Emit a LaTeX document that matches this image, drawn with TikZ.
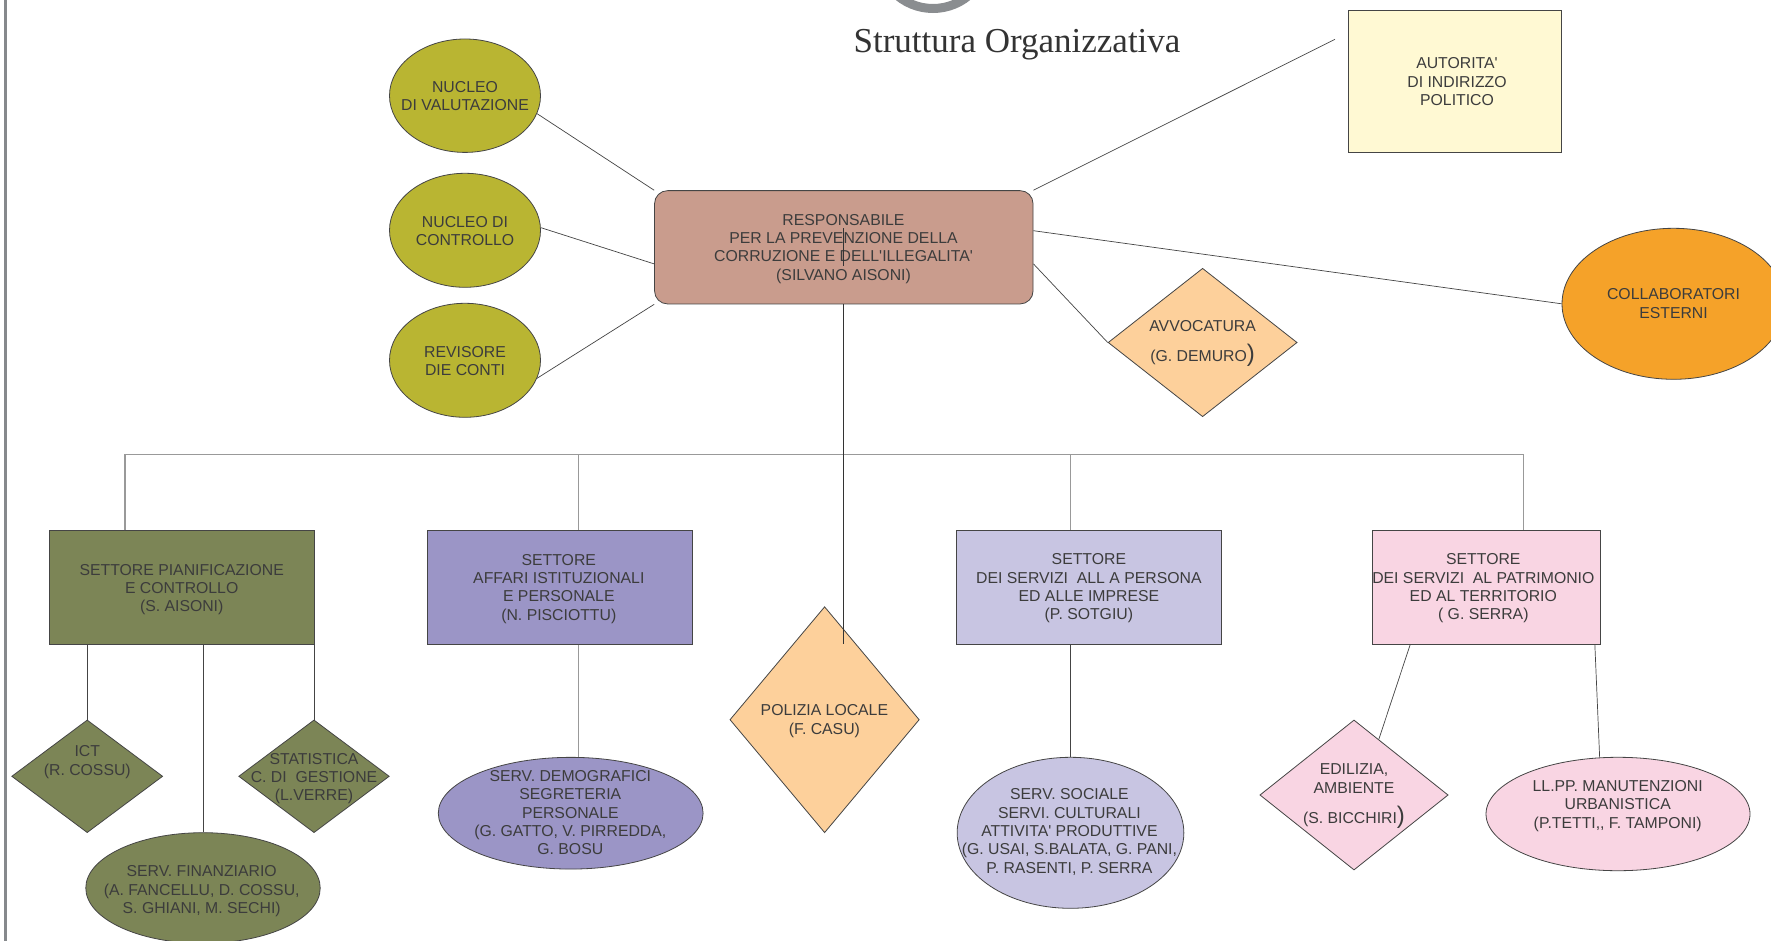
\documentclass[tikz,border=0pt]{standalone}
\usepackage{fontspec}
\setmainfont{Liberation Sans}[Ligatures=TeXOff]
\newfontfamily\titlefont{Liberation Serif}
\usetikzlibrary{shapes.geometric,calc}
\definecolor{olivelt}{HTML}{B9B532}
\definecolor{olivedk}{HTML}{7C8556}
\definecolor{respc}{HTML}{C99C8D}
\definecolor{autc}{HTML}{FFF9D3}
\definecolor{colc}{HTML}{F5A229}
\definecolor{avvc}{HTML}{FDD09B}
\definecolor{affc}{HTML}{9B95C6}
\definecolor{persc}{HTML}{C8C5E2}
\definecolor{patc}{HTML}{F9D5E3}
\definecolor{txtc}{HTML}{3C3C3C}
\definecolor{titlec}{HTML}{333333}
\definecolor{edgec}{HTML}{454545}
\definecolor{conc}{HTML}{444444}
\definecolor{busc}{HTML}{999999}
\definecolor{mainc}{HTML}{333333}
\definecolor{borderc}{HTML}{86898C}
\definecolor{ringc}{HTML}{8A8D90}
\newcommand\bigparen{{\fontsize{24}{18.3}\selectfont)}}
\begin{document}
\begin{tikzpicture}[x=1pt,y=-1pt,
  shp/.style={draw=edgec,line width=0.8pt,inner sep=0pt},
  box/.style={shp,rectangle},
  ell/.style={shp,ellipse},
  dia/.style={shp,diamond},
  lbl/.style={inner sep=0pt,align=center,text=txtc,font=\fontsize{15.8}{18.3}\selectfont},
  con/.style={draw=conc,line width=0.7pt},
  bus/.style={draw=busc,line width=1.3pt},
  mainline/.style={draw=mainc,line width=1pt}]

\useasboundingbox (0,0) rectangle (1771,941);
\fill[white] (0,0) rectangle (1771,941);

% top ring and left border
\begin{scope}
  \clip (0,0) rectangle (1771,941);
  \draw[ringc,line width=9pt] (933,-47) circle[radius=55.5];
\end{scope}
\draw[borderc,line width=3pt] (5,0) -- (5,941);

% title
\node[font=\titlefont\fontsize{35}{40}\selectfont,text=titlec,anchor=base,inner sep=0pt] (title) at (1017,53) {Struttura Organizzativa};

% shapes
\node[ell,fill=olivelt,minimum width=151,minimum height=113.4] (nv) at (465,95.7) {};
\node[ell,fill=olivelt,minimum width=151,minimum height=114] (nc) at (465,230.3) {};
\node[ell,fill=olivelt,minimum width=151,minimum height=114] (rv) at (465,360.3) {};
\node[box,fill=respc,rounded corners=13pt,minimum width=378.5,minimum height=113.3] (resp) at (843.8,247.3) {};
\node[box,fill=autc,minimum width=213,minimum height=142] (aut) at (1455.2,81.7) {};
\node[ell,fill=colc,minimum width=223,minimum height=151] (col) at (1673.5,303.8) {};
\node[dia,fill=avvc,minimum width=189,minimum height=148.4] (avv) at (1202.6,342.5) {};

\node[box,fill=olivedk,minimum width=265,minimum height=113.6] (pian) at (181.8,587.5) {};
\node[box,fill=affc,minimum width=265.2,minimum height=113.6] (aff) at (560.2,587.5) {};
\node[box,fill=persc,minimum width=264.4,minimum height=113.6] (pers) at (1088.9,587.5) {};
\node[box,fill=patc,minimum width=227.3,minimum height=113.6] (pat) at (1486.4,587.5) {};

\node[dia,fill=olivedk,minimum width=151,minimum height=112.7] (ict) at (87.2,776.3) {};
\node[dia,fill=olivedk,minimum width=150.6,minimum height=112.7] (stat) at (314,776.3) {};
\node[ell,fill=olivedk,minimum width=234.4,minimum height=110.6] (fin) at (203,888) {};
\node[ell,fill=affc,minimum width=264.8,minimum height=111.7] (dem) at (570.7,813.2) {};
\node[dia,fill=avvc,minimum width=189.4,minimum height=226] (pol) at (824.6,719.7) {};
\node[ell,fill=persc,minimum width=226.7,minimum height=151] (soc) at (1070.5,832.8) {};
\node[dia,fill=patc,minimum width=188.3,minimum height=150] (edi) at (1354,795) {};
\node[ell,fill=patc,minimum width=264,minimum height=113.4] (ll) at (1618,814) {};

% texts
\node[lbl] (nvT) at (465,96.2) {NUCLEO\\DI VALUTAZIONE};
\node[lbl] (ncT) at (465,231) {NUCLEO DI\\CONTROLLO};
\node[lbl] (rvT) at (465,361) {REVISORE\\DIE CONTI};
\node[lbl] (respT) at (843.5,248.8) {RESPONSABILE\\PER LA PREVENZIONE DELLA\\CORRUZIONE E DELL'ILLEGALITA'\\(SILVANO AISONI)};
\node[lbl] (autT) at (1457,81.8) {AUTORITA'\\DI INDIRIZZO\\POLITICO};
\node[lbl] (colT) at (1673.5,303.5) {COLLABORATORI\\ESTERNI};
\node[lbl] (avvT) at (1202.6,343.5) {AVVOCATURA\\[11.7pt](G. DEMURO\bigparen};
\node[lbl] (pianT) at (181.7,589.5) {SETTORE PIANIFICAZIONE\\E CONTROLLO\\(S. AISONI)};
\node[lbl] (affT) at (558.8,588.8) {SETTORE\\AFFARI ISTITUZIONALI\\E PERSONALE\\(N. PISCIOTTU)};
\node[lbl] (persT) at (1088.9,588.5) {SETTORE\\DEI SERVIZI\ \ ALL A PERSONA\\ED ALLE IMPRESE\\(P. SOTGIU)};
\node[lbl] (patT) at (1483.3,588.5) {SETTORE\\DEI SERVIZI\ \ AL PATRIMONIO\\ED AL TERRITORIO\\( G. SERRA)};
\node[lbl] (ictT) at (87.3,762) {ICT\\(R. COSSU)};
\node[lbl] (statT) at (314,778.6) {STATISTICA\\C. DI\ \ GESTIONE\\(L.VERRE)};
\node[lbl] (finT) at (201.7,891.3) {SERV. FINANZIARIO\\(A. FANCELLU, D. COSSU,\\S. GHIANI, M. SECHI)};
\node[lbl] (demT) at (570.3,812.7) {SERV. DEMOGRAFICI\\SEGRETERIA\\PERSONALE\\(G. GATTO, V. PIRREDDA,\\G. BOSU};
\node[lbl] (polT) at (824.4,721.1) {POLIZIA LOCALE\\(F. CASU)};
\node[lbl] (socT) at (1069.4,832) {SERV. SOCIALE\\SERVI. CULTURALI\\ATTIVITA' PRODUTTIVE\\(G. USAI, S.BALATA, G. PANI,\\P. RASENTI, P. SERRA};
\node[lbl] (ediT) at (1354,796) {EDILIZIA,\\AMBIENTE\\[11.7pt](S. BICCHIRI\bigparen};
\node[lbl] (llT) at (1617.7,806) {LL.PP. MANUTENZIONI\\URBANISTICA\\(P.TETTI,, F. TAMPONI)};

% connectors (upper part)
\draw[con] (nv.-14) -- (resp.north west);
\draw[con] (nc.2) -- (resp.185.5);
\draw[con] (rv.-14) -- (resp.south west);
\coordinate (autend) at (1335,39.3);
\draw[con] (resp.north east) -- (autend);
\draw[con] (resp.5.7) -- (col.west);
\draw[con] (resp.-5.9) -- (avv.west);

% bus
\coordinate (b1) at (125,454.7);
\coordinate (b2) at (578.7,454.7);
\coordinate (b3) at (1070.5,454.7);
\coordinate (b4) at (1523.7,454.7);
\draw[bus] (b1 |- pian.north) -- (b1) -- (b4) -- (b4 |- pat.north);
\draw[bus] (b2) -- (b2 |- aff.north);
\draw[bus] (b3) -- (b3 |- pers.north);

% main vertical
\coordinate (polend) at (843.3,644);
\coordinate (ri1) at (843.3,228.3);
\coordinate (ri2) at (843.3,266);
\draw[mainline] (ri1) -- (ri2);
\draw[mainline] (resp.south -| polend) -- (polend);

% lower connectors
\draw[con] (ict.north |- pian.south) -- (ict.north);
\draw[con] (fin.north |- pian.south) -- (fin.north);
\draw[con] (stat.north |- pian.south) -- (stat.north);
\draw[bus,line width=1pt] (b2 |- aff.south) -- (b2 |- dem.north);
\draw[con] (b3 |- pers.south) -- (soc.north);
\draw[con] ($(pat.south west)+(37.8,0)$) -- (edi.66);
\draw[con] ($(pat.south east)+(-5.6,0)$) -- (ll.108.7);
\end{tikzpicture}
\end{document}
